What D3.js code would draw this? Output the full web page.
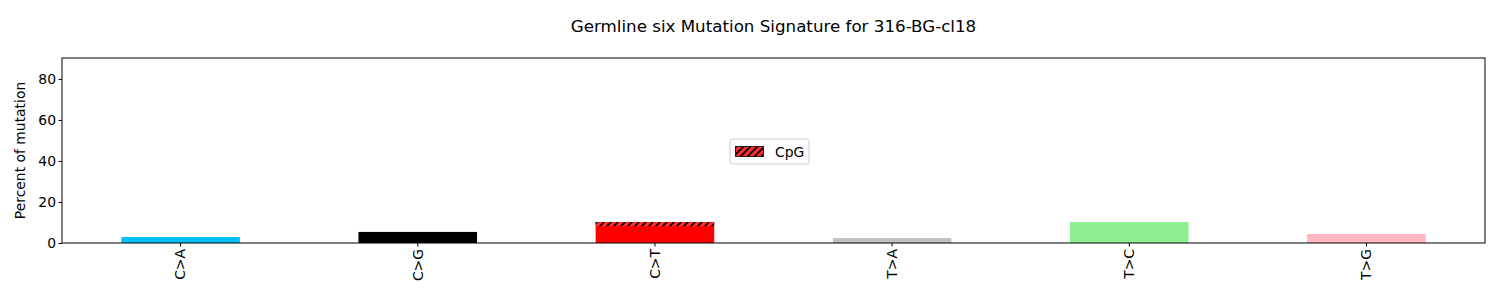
<!DOCTYPE html>
<html>
<head>
<meta charset="utf-8">
<script src="https://cdn.jsdelivr.net/npm/d3@7"></script>
<style>
  body { margin: 0; background: #fff; }
  text { font-family: "DejaVu Sans", sans-serif; }
</style>
</head>
<body>
<script>
"use strict";
// mutation classes and their percentages
const categories = ["C>A", "C>G", "C>T", "T>A", "T>C", "T>G"]
const percents = [2.9, 5.4, 10.2, 2.4, 10.2, 4.4]
const cpgPercent = 2.0   // part of C>T that is CpG (hatched, on top)
const barColors = ["deepskyblue", "black", "red", "silver", "lightgreen", "lightpink"]
const yTicks = [0, 20, 40, 60, 80]

const measurements = { width: 1500, height: 300, left: 62, right: 1485, top: 58, bottom: 243 }

const svg = d3.select("body").append("svg")
    .attr("width", measurements.width)
    .attr("height", measurements.height)

// hatch pattern for CpG
const defs = svg.append("defs")
const pat = defs.append("pattern")
    .attr("id", "hatch")
    .attr("patternUnits", "userSpaceOnUse")
    .attr("width", 7).attr("height", 7)
pat.append("rect").attr("width", 7).attr("height", 7).attr("fill", "#ff2a2a")
pat.append("path")
    .attr("d", "M-1,8 L8,-1 M-2,2 L2,-2 M5,9 L9,5")
    .attr("stroke", "black").attr("stroke-width", 1.6)

const scaleX = d3.scaleBand()
    .domain(categories)
    .range([measurements.left, measurements.right])
    .paddingInner(0.5).paddingOuter(0.25)

const scaleY = d3.scaleLinear()
    .domain([0, 90.2])
    .range([measurements.bottom, measurements.top])

// bars
svg.selectAll(".bar")
    .data(categories)
    .enter().append("rect")
    .attr("class", "bar")
    .attr("x", d => scaleX(d))
    .attr("width", scaleX.bandwidth())
    .attr("y", (d, i) => scaleY(percents[i]))
    .attr("height", (d, i) => scaleY(0) - scaleY(percents[i]))
    .attr("fill", (d, i) => barColors[i])

// CpG hatched part on top of C>T
const ct = percents[categories.indexOf("C>T")]
svg.append("rect")
    .attr("x", scaleX("C>T"))
    .attr("width", scaleX.bandwidth())
    .attr("y", scaleY(ct))
    .attr("height", scaleY(ct - cpgPercent) - scaleY(ct))
    .attr("fill", "url(#hatch)")

// axes
const xAxis = d3.axisBottom(scaleX).tickSize(3.5).tickSizeOuter(0)
const gx = svg.append("g")
    .attr("transform", `translate(0,${measurements.bottom})`)
    .call(xAxis)
gx.select(".domain").remove()
gx.selectAll("text")
    .attr("transform", "rotate(-90)")
    .attr("text-anchor", "end")
    .attr("x", -6).attr("y", 0).attr("dy", "0.35em")
    .style("font-size", "13.9px").attr("fill", "#000")

const yAxis = d3.axisLeft(scaleY).tickValues(yTicks).tickSize(3.5)
const gy = svg.append("g")
    .attr("transform", `translate(${measurements.left},0)`)
    .call(yAxis)
gy.select(".domain").remove()
gy.selectAll("text").style("font-size", "13.9px").attr("fill", "#000").attr("x", -6)

// frame
svg.append("rect")
    .attr("x", measurements.left).attr("y", measurements.top)
    .attr("width", measurements.right - measurements.left)
    .attr("height", measurements.bottom - measurements.top)
    .attr("fill", "none").attr("stroke", "black").attr("stroke-width", 1)

// title & label
svg.append("text")
    .attr("x", (measurements.left + measurements.right) / 2)
    .attr("y", 32)
    .attr("text-anchor", "middle")
    .style("font-size", "16.7px")
    .text("Germline six Mutation Signature for 316-BG-cl18")

svg.append("text")
    .attr("transform", `translate(25,${(measurements.top + measurements.bottom) / 2}) rotate(-90)`)
    .attr("text-anchor", "middle")
    .style("font-size", "13.9px")
    .text("Percent of mutation")

// legend
const legend = svg.append("g").attr("transform", "translate(730,139)")
legend.append("rect")
    .attr("width", 79).attr("height", 25).attr("rx", 3)
    .attr("fill", "white").attr("stroke", "#ccc")
legend.append("rect")
    .attr("x", 5.5).attr("y", 7.5).attr("width", 28).attr("height", 10)
    .attr("fill", "url(#hatch)").attr("stroke", "black").attr("stroke-width", 0.8)
legend.append("text")
    .attr("x", 45).attr("y", 17.5)
    .style("font-size", "13.9px")
    .text("CpG")
</script>
</body>
</html>
